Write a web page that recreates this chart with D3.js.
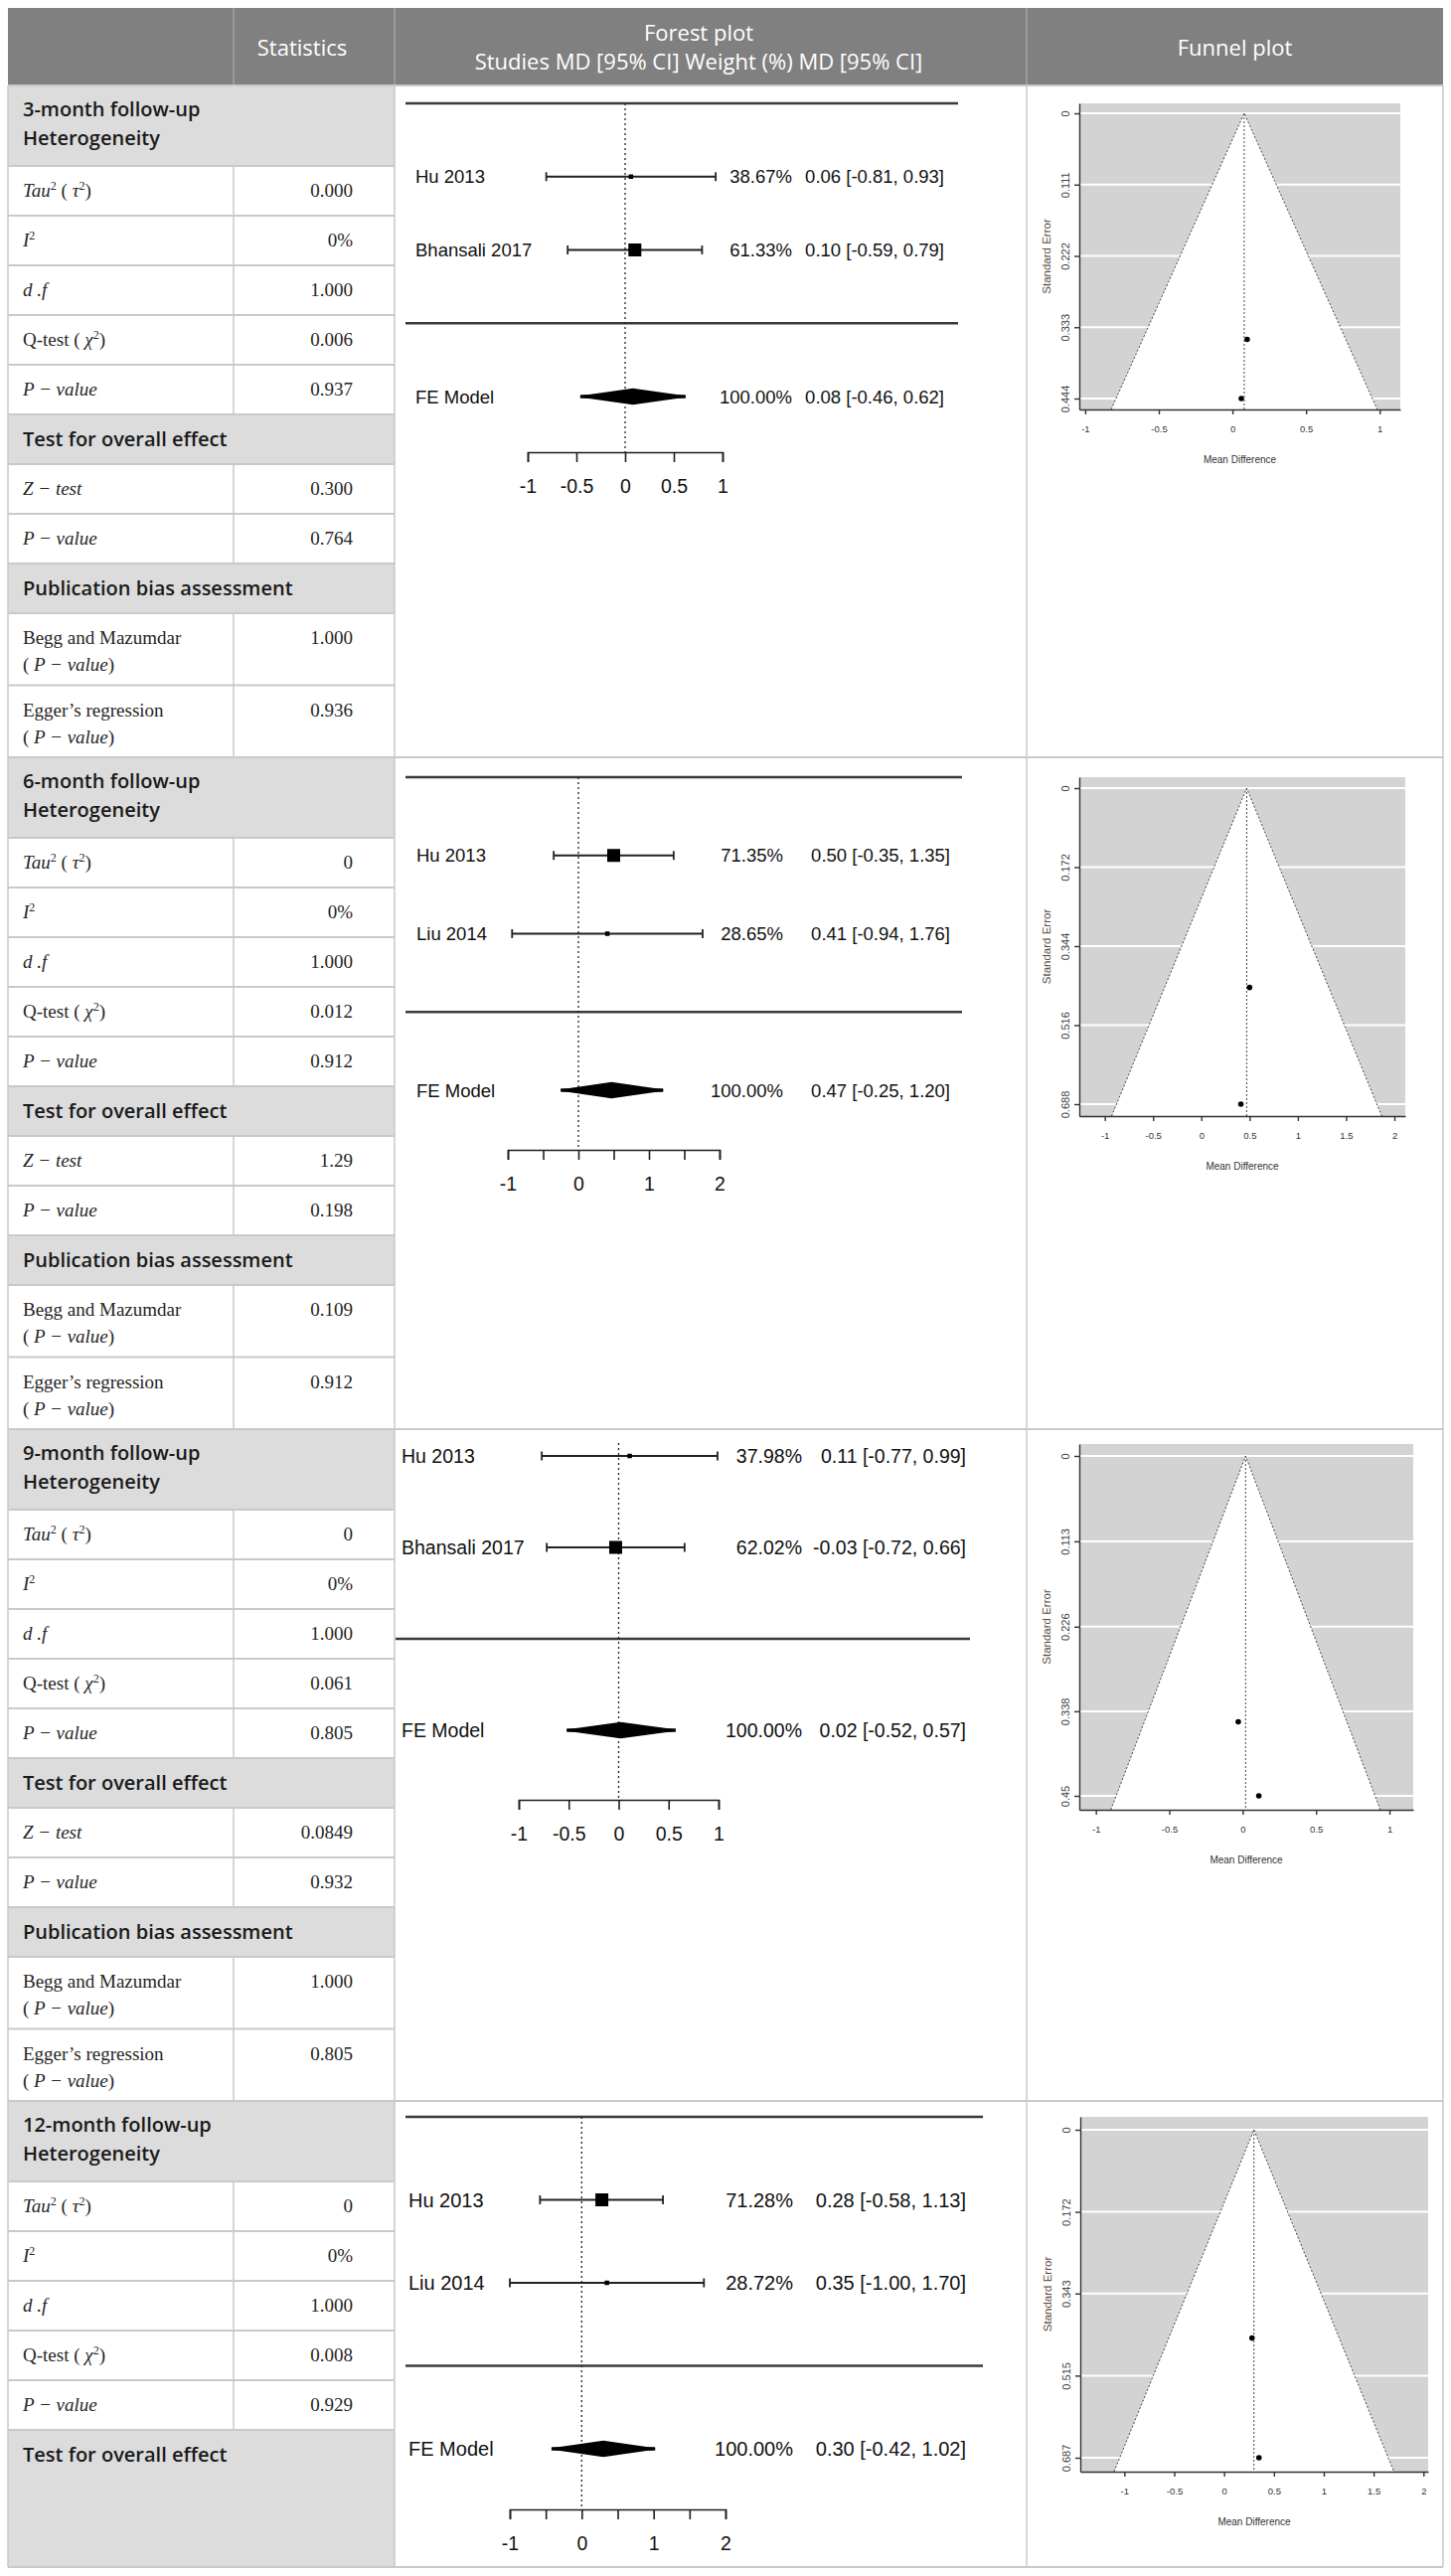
<!DOCTYPE html>
<html>
<head>
<meta charset="utf-8">
<script src="https://cdn.jsdelivr.net/npm/d3@7"></script>
<style>
  body { margin: 0; background: #fff; }
  text { white-space: pre; }
</style>
</head>
<body>
<script>
// ---------- data ----------
var sections = ['3-month follow-up', '6-month follow-up', '9-month follow-up', '12-month follow-up'];
var tauValues = ['0.000', '0', '0', '0'];
var i2Values = ['0%', '0%', '0%', '0%'];
var dfValues = ['1.000', '1.000', '1.000', '1.000'];
var qValues = ['0.006', '0.012', '0.061', '0.008'];
var qPValues = ['0.937', '0.912', '0.805', '0.929'];
var zValues = ['0.300', '1.29', '0.0849', null];
var zPValues = ['0.764', '0.198', '0.932', null];
var beggValues = ['1.000', '0.109', '1.000', null];
var eggerValues = ['0.936', '0.912', '0.805', null];

var studyNames = [['Hu 2013', 'Bhansali 2017'], ['Hu 2013', 'Liu 2014'], ['Hu 2013', 'Bhansali 2017'], ['Hu 2013', 'Liu 2014']];
var studyWeights = [[38.67, 61.33], [71.35, 28.65], [37.98, 62.02], [71.28, 28.72]];
var studyMD = [[0.06, 0.10], [0.50, 0.41], [0.11, -0.03], [0.28, 0.35]];
var studyLower = [[-0.81, -0.59], [-0.35, -0.94], [-0.77, -0.72], [-0.58, -1.00]];
var studyUpper = [[0.93, 0.79], [1.35, 1.76], [0.99, 0.66], [1.13, 1.70]];
var studySE = [[0.444, 0.352], [0.434, 0.688], [0.450, 0.352], [0.436, 0.687]];
var pooledMD = [0.08, 0.47, 0.02, 0.30];
var pooledLower = [-0.46, -0.25, -0.52, -0.42];
var pooledUpper = [0.62, 1.20, 0.57, 1.02];

var forestTicks = [[-1, -0.5, 0, 0.5, 1], [-1, -0.5, 0, 0.5, 1, 1.5, 2], [-1, -0.5, 0, 0.5, 1], [-1, -0.5, 0, 0.5, 1, 1.5, 2]];
var forestTickLabels = [['-1', '-0.5', '0', '0.5', '1'], ['-1', '', '0', '', '1', '', '2'], ['-1', '-0.5', '0', '0.5', '1'], ['-1', '', '0', '', '1', '', '2']];
var funnelXTicks = [[-1, -0.5, 0, 0.5, 1], [-1, -0.5, 0, 0.5, 1, 1.5, 2], [-1, -0.5, 0, 0.5, 1], [-1, -0.5, 0, 0.5, 1, 1.5, 2]];
var funnelSETicks = [[0, 0.111, 0.222, 0.333, 0.444], [0, 0.172, 0.344, 0.516, 0.688], [0, 0.113, 0.226, 0.338, 0.45], [0, 0.172, 0.343, 0.515, 0.687]];

var rowLabels = [null,
  '<i>Tau</i><sup>2</sup> ( <i>τ</i><sup>2</sup>)',
  '<i>I</i><sup>2</sup>',
  '<i>d .f</i>',
  'Q-test ( <i>χ</i><sup>2</sup>)',
  '<i>P − value</i>',
  'Test for overall effect',
  '<i>Z − test</i>',
  '<i>P − value</i>',
  'Publication bias assessment',
  'Begg and Mazumdar|( <i>P − value</i>)',
  'Egger’s regression|( <i>P − value</i>)'];
var rowValues = [null, tauValues, i2Values, dfValues, qValues, qPValues, null, zValues, zPValues, null, beggValues, eggerValues];

// ---------- layout ----------
var rowTypes = ['sec', 'row', 'row', 'row', 'row', 'row', 'gray', 'row', 'row', 'gray', 'two', 'two'];
var rowHeight = {sec: 81, row: 50, gray: 50, two: 72.5};
var rowsShown = [12, 12, 12, 7];
var left = 8, colA = 235, colB = 397, colC = 1033, right = 1452;
var headTop = 8, headBottom = 86, tableBottom = 2583;
var valueX = 355, labelX = 23;

// forest panels (y offsets relative to the section top)
var forestLayout = [
  {top: 18, fe: 313, axis: 369, x: [531, 727], line: [408, 964], label: 418, weight: 797, ci: 950, font: 18.5},
  {top: 20, fe: 335, axis: 395, x: [511, 724], line: [408, 968], label: 419, weight: 788, ci: 956, font: 18.5},
  {top: -65, fe: 303, axis: 373, x: [522, 723], line: [398, 976], label: 404, weight: 807, ci: 972, font: 19.5},
  {top: 16, fe: 350, axis: 411, x: [513, 730], line: [408, 989], label: 411, weight: 798, ci: 972, font: 20}
];
// funnel panels
var funnelLayout = [
  {x: [1086, 1409], dom: [-1.04, 1.14], box: [18, 326], se: [28, 315]},
  {x: [1086, 1414], dom: [-1.264, 2.113], box: [20, 361], se: [31, 349]},
  {x: [1086, 1422], dom: [-1.113, 1.162], box: [15, 383], se: [27, 369]},
  {x: [1087, 1437], dom: [-1.442, 2.047], box: [16, 373], se: [29, 359]}
];

var lineColor = '#c9c9c9';
var grayFill = '#dcdcdc';

var svg = d3.select('body').append('svg')
  .attr('width', 1460)
  .attr('height', 2592);

// section tops
var sectionTops = [];
var yy = headBottom;
sections.forEach(function(s, i) {
  sectionTops.push(yy);
  rowTypes.forEach(function(t) { yy += rowHeight[t]; });
});

// ---------- header ----------
svg.append('rect').attr('x', left).attr('y', headTop).attr('width', right - left).attr('height', headBottom - headTop)
  .attr('fill', '#808080');
[colA, colB, colC].forEach(function(cx) {
  svg.append('line').attr('x1', cx).attr('x2', cx).attr('y1', headTop).attr('y2', headBottom)
    .attr('stroke', '#a3a3a3').attr('stroke-width', 1.5);
});
var head = svg.append('g').attr('font-family', '"Open Sans", sans-serif').attr('font-size', 22).attr('fill', '#fff');
head.append('text').attr('x', (colA + colB) / 2 - 12).attr('y', 56).attr('text-anchor', 'middle').text('Statistics');
head.append('text').attr('x', (colB + colC) / 2 - 12).attr('y', 41).attr('text-anchor', 'middle').text('Forest plot');
head.append('text').attr('x', (colB + colC) / 2 - 12).attr('y', 70).attr('text-anchor', 'middle').text('Studies MD [95% CI] Weight (%) MD [95% CI]');
head.append('text').attr('x', (colC + right) / 2).attr('y', 56).attr('text-anchor', 'middle').text('Funnel plot');

// ---------- rich text helper ----------
function richText(sel, str, x, y) {
  var t = sel.append('text').attr('x', x).attr('y', y);
  var parts = str.split(/(<i>.*?<\/i>|<sup>.*?<\/sup>)/).filter(function(p) { return p; });
  var raised = false;
  parts.forEach(function(p) {
    var span = t.append('tspan');
    var m = p.match(/^<sup>(.*)<\/sup>$/);
    if (m) {
      span.text(m[1]).attr('dy', -7).attr('font-size', 12);
      raised = true;
      return;
    }
    m = p.match(/^<i>(.*)<\/i>$/);
    if (m) span.text(m[1]).attr('font-style', 'italic');
    else span.text(p);
    if (raised) { span.attr('dy', 7); raised = false; }
  });
  return t;
}

// ---------- statistics table ----------
var table = svg.append('g');
var hlines = [];
sections.forEach(function(sec, s) {
  var y = sectionTops[s];
  for (var r = 0; r < rowsShown[s]; r++) {
    var type = rowTypes[r];
    var h = rowHeight[type];
    if (s === sections.length - 1 && r === rowsShown[s] - 1) h = tableBottom - y;
    if (type === 'sec' || type === 'gray') {
      table.append('rect').attr('x', left).attr('y', y).attr('width', colB - left).attr('height', h).attr('fill', grayFill);
    }
    var g = table.append('g');
    if (type === 'sec') {
      g.attr('font-family', '"Open Sans", sans-serif').attr('font-weight', 600).attr('font-size', 20).attr('fill', '#1a1a1a');
      g.append('text').attr('x', labelX).attr('y', y + 31).text(sec);
      g.append('text').attr('x', labelX).attr('y', y + 60).text('Heterogeneity');
    } else if (type === 'gray') {
      g.attr('font-family', '"Open Sans", sans-serif').attr('font-weight', 600).attr('font-size', 20).attr('fill', '#1a1a1a');
      g.append('text').attr('x', labelX).attr('y', y + 32).text(rowLabels[r]);
    } else {
      g.attr('font-family', '"Liberation Serif", serif').attr('font-size', 19).attr('fill', '#262626');
      var lines = rowLabels[r].split('|');
      var base = y + 31;
      lines.forEach(function(l, li) { richText(g, l, labelX, base + li * 27); });
      g.append('text').attr('x', valueX).attr('y', base).attr('text-anchor', 'end').text(rowValues[r][s]);
      table.append('line').attr('x1', colA).attr('x2', colA).attr('y1', y).attr('y2', y + h)
        .attr('stroke', lineColor).attr('stroke-width', 1.5);
    }
    hlines.push({y: y, x1: left, x2: colB});
    y += h;
  }
  var next = s < sections.length - 1 ? sectionTops[s + 1] : tableBottom;
  hlines.push({y: sectionTops[s], x1: colB, x2: right});
  hlines.push({y: next, x1: left, x2: right});
});
hlines.forEach(function(l) {
  table.append('line').attr('x1', l.x1).attr('x2', l.x2).attr('y1', l.y).attr('y2', l.y)
    .attr('stroke', lineColor).attr('stroke-width', 2);
});
[left, colB, colC, right].forEach(function(cx) {
  table.append('line').attr('x1', cx).attr('x2', cx).attr('y1', headBottom).attr('y2', tableBottom)
    .attr('stroke', lineColor).attr('stroke-width', 1.5);
});

// ---------- forest plots ----------
function drawForest(s) {
  var top = sectionTops[s];
  var bottom = s < sections.length - 1 ? sectionTops[s + 1] : tableBottom;
  var L = forestLayout[s];
  svg.append('clipPath').attr('id', 'fclip' + s).append('rect')
    .attr('x', colB + 1).attr('y', top + 1).attr('width', colC - colB - 2).attr('height', bottom - top - 2);
  var g = svg.append('g').attr('clip-path', 'url(#fclip' + s + ')')
    .attr('font-family', '"Liberation Sans", Arial, sans-serif').attr('font-size', L.font).attr('fill', '#111');

  var x = d3.scaleLinear().domain(d3.extent(forestTicks[s])).range(L.x);
  var y = d3.scaleLinear().domain([3, -1]).range([top + L.top, top + L.fe]);
  var size = d3.scaleLinear().domain(d3.extent(studyWeights[s])).range([4.5, 13]);

  [3, 0].forEach(function(r) {
    g.append('line').attr('x1', L.line[0]).attr('x2', L.line[1]).attr('y1', y(r)).attr('y2', y(r))
      .attr('stroke', '#3a3a3a').attr('stroke-width', 2.5);
  });
  g.append('line').attr('x1', x(0)).attr('x2', x(0))
    .attr('y1', Math.max(y(3), top + 14)).attr('y2', top + L.axis)
    .attr('stroke', '#222').attr('stroke-width', 1.3).attr('stroke-dasharray', '2,3');

  studyNames[s].forEach(function(name, i) {
    var cy = y(2 - i);
    var lo = x(studyLower[s][i]), hi = x(studyUpper[s][i]);
    g.append('line').attr('x1', lo).attr('x2', hi).attr('y1', cy).attr('y2', cy).attr('stroke', '#222').attr('stroke-width', 1.8);
    [lo, hi].forEach(function(cx) {
      g.append('line').attr('x1', cx).attr('x2', cx).attr('y1', cy - 4.5).attr('y2', cy + 4.5).attr('stroke', '#222').attr('stroke-width', 1.8);
    });
    var sz = size(studyWeights[s][i]);
    g.append('rect').attr('x', x(studyMD[s][i]) - sz / 2).attr('y', cy - sz / 2).attr('width', sz).attr('height', sz).attr('fill', '#000');
    g.append('text').attr('x', L.label).attr('y', cy).attr('dy', '0.36em').text(name);
    g.append('text').attr('x', L.weight).attr('y', cy).attr('dy', '0.36em').attr('text-anchor', 'end')
      .text(studyWeights[s][i].toFixed(2) + '%');
    g.append('text').attr('x', L.ci).attr('y', cy).attr('dy', '0.36em').attr('text-anchor', 'end')
      .text(studyMD[s][i].toFixed(2) + ' [' + studyLower[s][i].toFixed(2) + ', ' + studyUpper[s][i].toFixed(2) + ']');
  });

  // pooled estimate: blunt diamond (thin bar over the full CI plus a diamond body)
  var fy = y(-1);
  g.append('line').attr('x1', x(pooledLower[s])).attr('x2', x(pooledUpper[s])).attr('y1', fy).attr('y2', fy)
    .attr('stroke', '#000').attr('stroke-width', 3.5);
  var diamond = [[pooledLower[s], 0], [pooledMD[s], -7.5], [pooledUpper[s], 0], [pooledMD[s], 7.5]];
  g.append('path')
    .attr('d', d3.line().x(function(d) { return x(d[0]); }).y(function(d) { return fy + d[1]; })(diamond) + 'Z')
    .attr('fill', '#000').attr('stroke', '#000').attr('stroke-width', 1.5);
  g.append('text').attr('x', L.label).attr('y', fy).attr('dy', '0.36em').text('FE Model');
  g.append('text').attr('x', L.weight).attr('y', fy).attr('dy', '0.36em').attr('text-anchor', 'end')
    .text(d3.sum(studyWeights[s]).toFixed(2) + '%');
  g.append('text').attr('x', L.ci).attr('y', fy).attr('dy', '0.36em').attr('text-anchor', 'end')
    .text(pooledMD[s].toFixed(2) + ' [' + pooledLower[s].toFixed(2) + ', ' + pooledUpper[s].toFixed(2) + ']');

  var ax = g.append('g').attr('transform', 'translate(0,' + (top + L.axis) + ')')
    .call(d3.axisBottom(x).tickValues(forestTicks[s])
      .tickFormat(function(d, i) { return forestTickLabels[s][i]; })
      .tickSize(10).tickSizeOuter(10).tickPadding(17));
  ax.attr('font-family', '"Liberation Sans", Arial, sans-serif').attr('font-size', 19.5);
  ax.selectAll('path, line').attr('stroke', '#1e1e1e').attr('stroke-width', 1.6);
  ax.selectAll('text').attr('fill', '#111');
}

// ---------- funnel plots ----------
function drawFunnel(s) {
  var top = sectionTops[s];
  var L = funnelLayout[s];
  var g = svg.append('g').attr('font-family', '"Liberation Sans", Arial, sans-serif');
  var seTicks = funnelSETicks[s];
  var x = d3.scaleLinear().domain(L.dom).range(L.x);
  var y = d3.scaleLinear().domain([0, seTicks[seTicks.length - 1]]).range([top + L.se[0], top + L.se[1]]);
  var boxTop = top + L.box[0], boxBot = top + L.box[1];
  var yAxisScale = d3.scaleLinear().domain([y.invert(boxTop), y.invert(boxBot)]).range([boxTop, boxBot]);
  var seB = y.invert(boxBot);
  var est = pooledMD[s];

  g.append('rect').attr('x', L.x[0]).attr('y', boxTop).attr('width', L.x[1] - L.x[0]).attr('height', boxBot - boxTop)
    .attr('fill', '#d3d3d3');
  seTicks.forEach(function(t) {
    g.append('line').attr('x1', L.x[0]).attr('x2', L.x[1]).attr('y1', y(t)).attr('y2', y(t))
      .attr('stroke', '#fff').attr('stroke-width', 2);
  });
  var funnel = [[est - 1.96 * seB, seB], [est, 0], [est + 1.96 * seB, seB]];
  var fl = d3.line().x(function(d) { return x(d[0]); }).y(function(d) { return y(d[1]); });
  g.append('path').attr('d', fl(funnel) + 'Z').attr('fill', '#fff');
  g.append('path').attr('d', fl(funnel)).attr('fill', 'none')
    .attr('stroke', '#444').attr('stroke-width', 1).attr('stroke-dasharray', '2,2');
  g.append('line').attr('x1', x(est)).attr('x2', x(est)).attr('y1', y(0)).attr('y2', boxBot)
    .attr('stroke', '#444').attr('stroke-width', 1).attr('stroke-dasharray', '2,2');
  studyMD[s].forEach(function(m, i) {
    g.append('circle').attr('cx', x(m)).attr('cy', y(studySE[s][i])).attr('r', 2.8).attr('fill', '#000');
  });

  var xa = g.append('g').attr('transform', 'translate(0,' + boxBot + ')')
    .call(d3.axisBottom(x).tickValues(funnelXTicks[s]).tickFormat(String).tickSize(5).tickSizeOuter(0).tickPadding(11));
  xa.attr('font-family', '"Liberation Sans", Arial, sans-serif').attr('font-size', 9.5);
  xa.selectAll('path, line').attr('stroke', '#333').attr('stroke-width', 1.4);
  xa.selectAll('text').attr('fill', '#333');

  var ya = g.append('g').attr('transform', 'translate(' + L.x[0] + ',0)')
    .call(d3.axisLeft(yAxisScale).tickValues(seTicks).tickFormat(String).tickSize(5).tickSizeOuter(0));
  ya.attr('font-family', '"Liberation Sans", Arial, sans-serif').attr('font-size', 11);
  ya.selectAll('path, line').attr('stroke', '#333').attr('stroke-width', 1.4);
  ya.selectAll('text').attr('fill', '#444').attr('text-anchor', 'middle')
    .attr('transform', 'rotate(-90)').attr('x', 0).attr('y', -10).attr('dy', 0);

  g.append('text').attr('transform', 'translate(' + (L.x[0] - 29) + ',' + ((boxTop + boxBot) / 2) + ') rotate(-90)')
    .attr('text-anchor', 'middle').attr('font-size', 11.5).attr('fill', '#5b4a40').text('Standard Error');
  g.append('text').attr('x', (L.x[0] + L.x[1]) / 2).attr('y', boxBot + 54)
    .attr('text-anchor', 'middle').attr('font-size', 10).attr('fill', '#333').text('Mean Difference');
}

sections.forEach(function(sec, s) {
  drawForest(s);
  drawFunnel(s);
});
</script>
</body>
</html>
